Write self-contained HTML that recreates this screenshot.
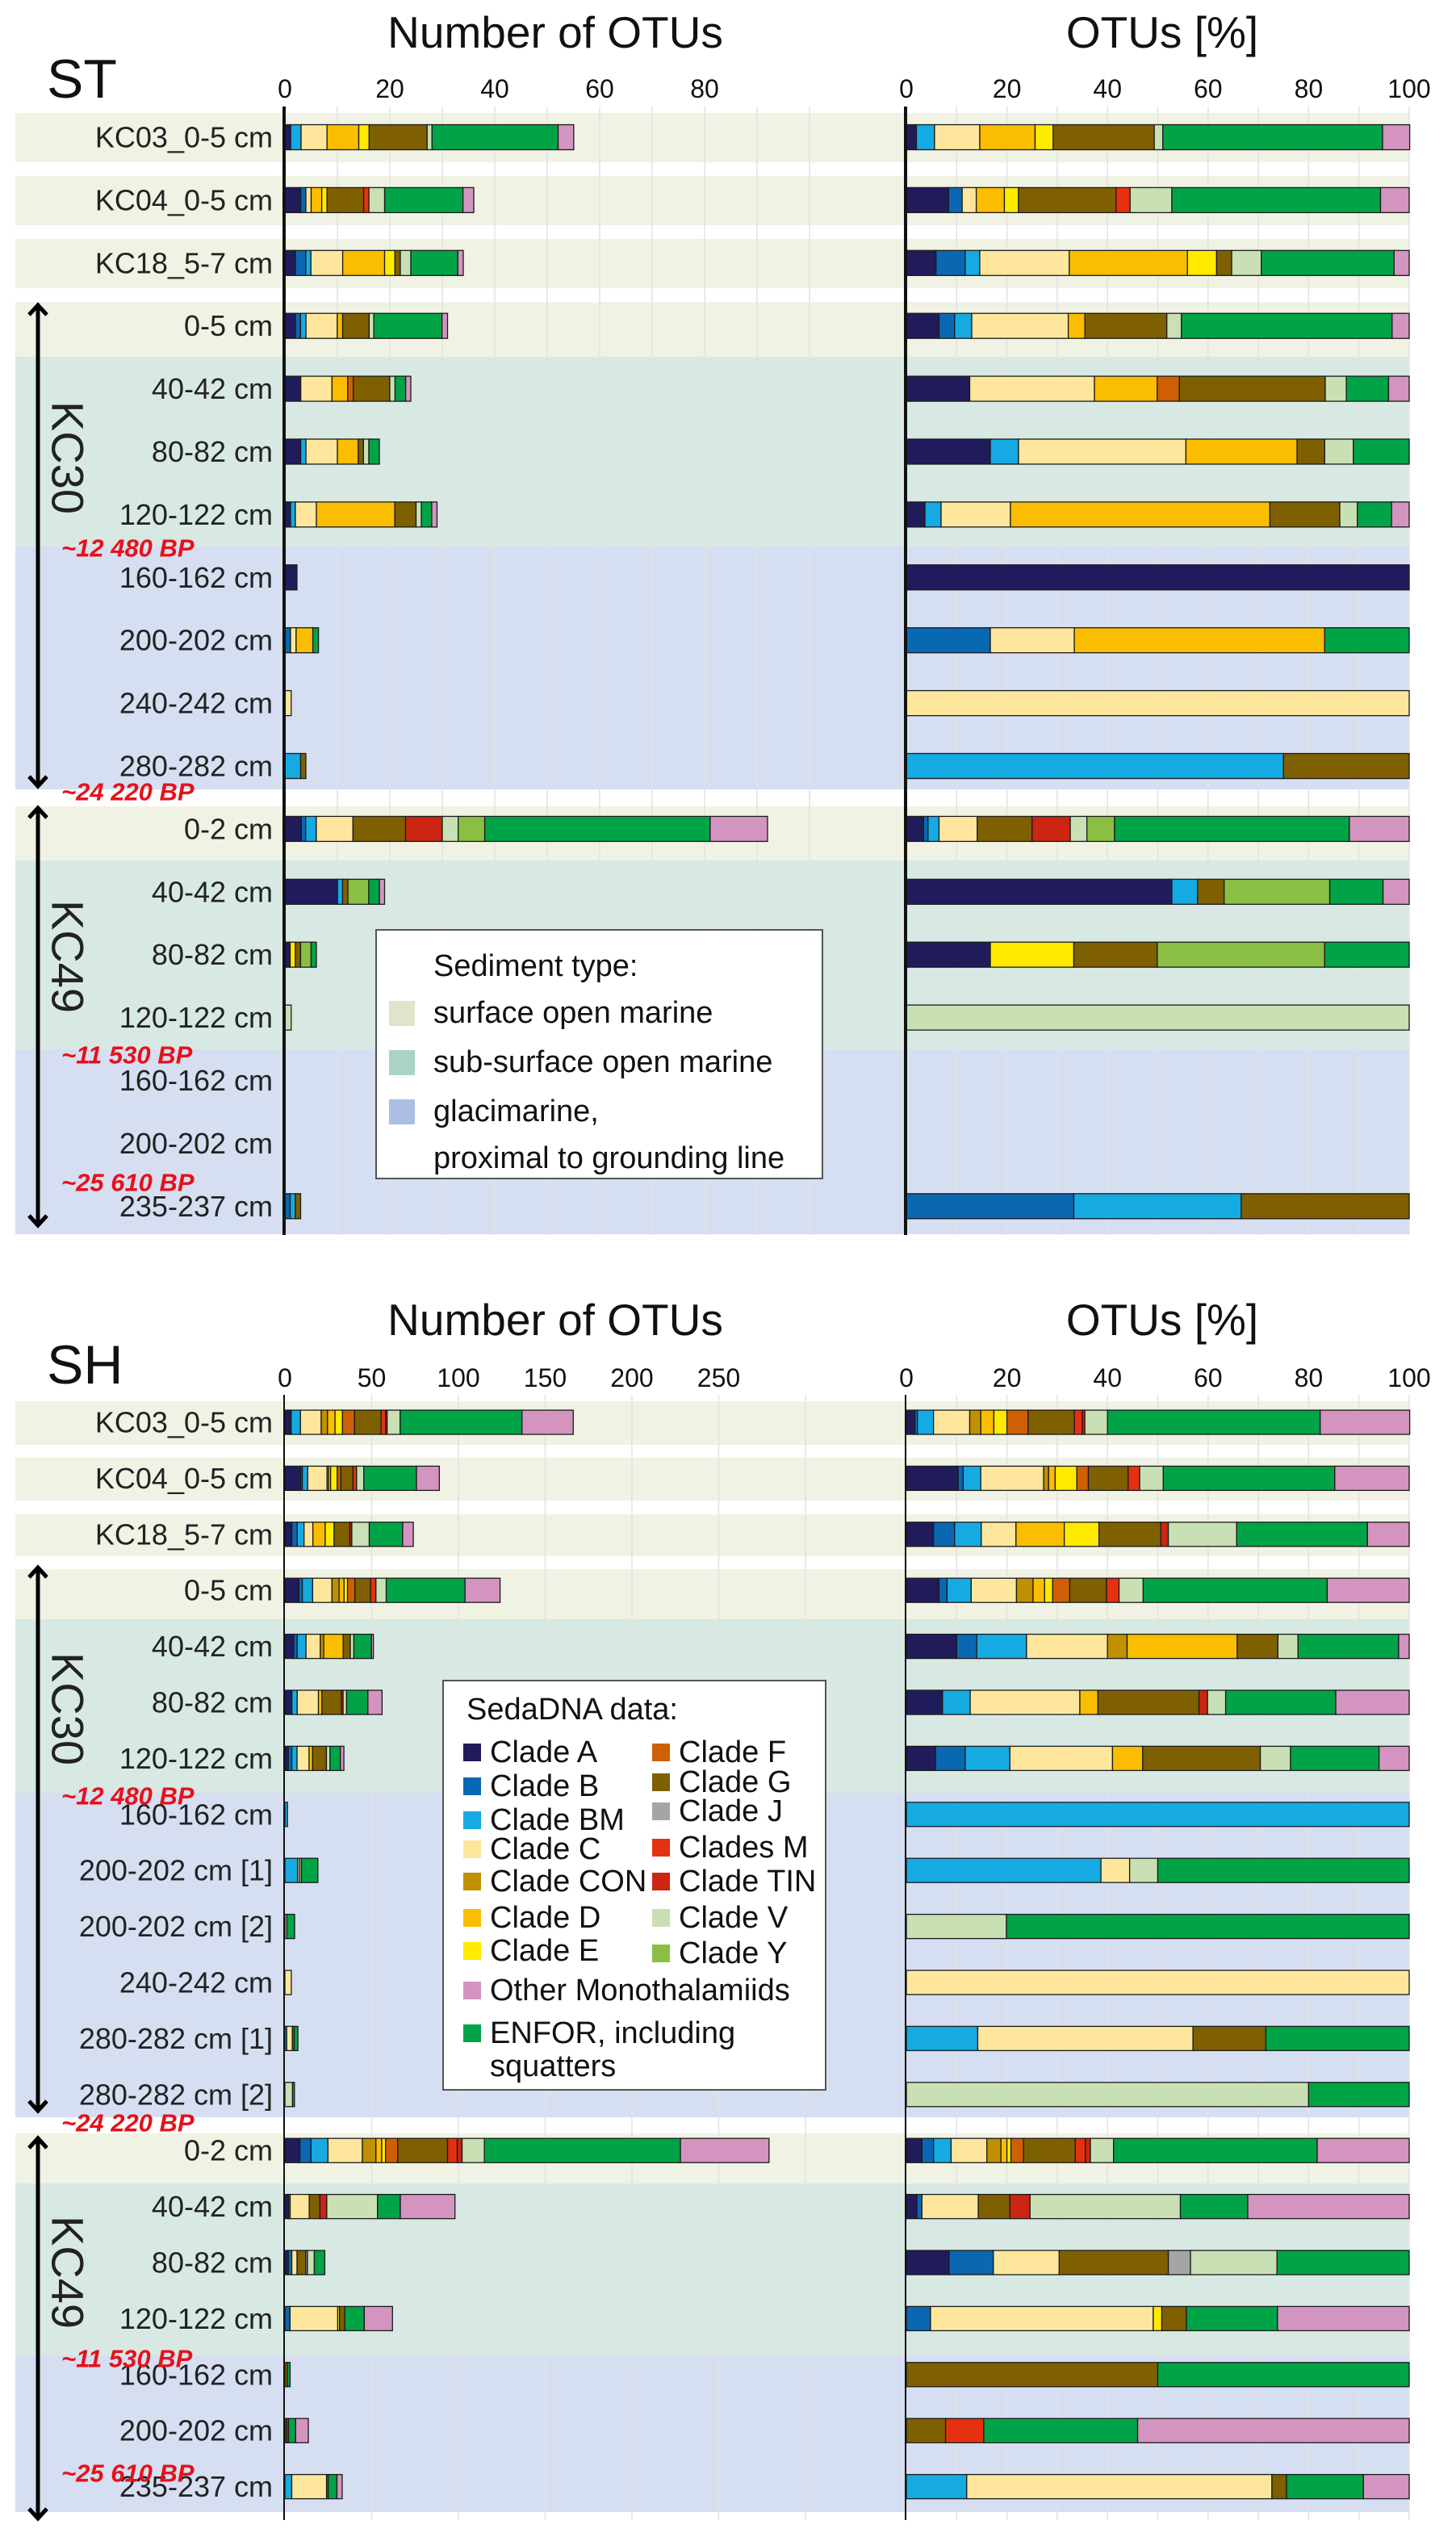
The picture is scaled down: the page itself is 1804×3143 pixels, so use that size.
<!DOCTYPE html>
<html><head><meta charset="utf-8">
<style>
html,body{margin:0;padding:0;background:#fff;}
svg{display:block;font-family:"Liberation Sans",sans-serif;}
</style></head>
<body>
<svg id="chart" width="1804" height="3143" viewBox="0 0 1804 3143" xmlns="http://www.w3.org/2000/svg"></svg>
<script>
// ---- Data ----
const cladeKeys = ["A","B","BM","C","CON","D","E","F","G","J","M","TIN","V","Y","OM","EN"];
const cladeColors = ["#201c5c","#0a68b2","#16aae2","#fee79c","#bf9000","#fbbd00","#ffea00","#cf5f05","#7f6000","#a5a5a5","#e5310f","#cc2511","#c8e0b4","#8bbf44","#d394c0","#00a447"];

const stLabels = ["KC03_0-5 cm","KC04_0-5 cm","KC18_5-7 cm","0-5 cm","40-42 cm","80-82 cm","120-122 cm","160-162 cm","200-202 cm","240-242 cm","280-282 cm","0-2 cm","40-42 cm","80-82 cm","120-122 cm","160-162 cm","200-202 cm","235-237 cm"];
const stTotals = [55,36,34,31,24,18,29,2.3,6.4,1.2,4,92,19,6,1.2,0,0,3];
const stComp = [
 [["A",2],["BM",3.6],["C",9],["D",11],["E",3.6],["G",20.1],["V",1.7],["EN",43.7],["OM",5.4]],
 [["A",8.4],["B",2.7],["C",2.8],["D",5.6],["E",2.8],["G",19.4],["M",2.8],["V",8.3],["EN",41.5],["OM",5.7]],
 [["A",5.9],["B",5.8],["BM",2.9],["C",17.8],["D",23.5],["E",5.8],["G",3],["V",5.9],["EN",26.4],["OM",3]],
 [["A",6.5],["B",3.1],["BM",3.4],["C",19.2],["D",3.3],["G",16.3],["V",2.9],["EN",41.9],["OM",3.4]],
 [["A",12.6],["C",24.8],["D",12.5],["F",4.4],["G",29],["V",4.2],["EN",8.4],["OM",4.1]],
 [["A",16.7],["BM",5.6],["C",33.3],["D",22.1],["G",5.5],["V",5.7],["EN",11.1]],
 [["A",3.7],["BM",3.2],["C",13.8],["D",51.6],["G",13.9],["V",3.5],["EN",6.8],["OM",3.5]],
 [["A",100]],
 [["B",16.7],["C",16.7],["D",49.8],["EN",16.8]],
 [["C",100]],
 [["BM",75],["G",25]],
 [["A",3.4],["B",0.9],["BM",2.2],["C",7.6],["G",10.9],["TIN",7.6],["V",3.3],["Y",5.5],["EN",46.7],["OM",11.9]],
 [["A",52.8],["BM",5.1],["G",5.3],["Y",21],["EN",10.6],["OM",5.2]],
 [["A",16.7],["E",16.6],["G",16.6],["Y",33.3],["EN",16.8]],
 [["V",100]],
 [],
 [],
 [["B",33.3],["BM",33.3],["G",33.4]]
];

const shLabels = ["KC03_0-5 cm","KC04_0-5 cm","KC18_5-7 cm","0-5 cm","40-42 cm","80-82 cm","120-122 cm","160-162 cm","200-202 cm [1]","200-202 cm [2]","240-242 cm","280-282 cm [1]","280-282 cm [2]","0-2 cm","40-42 cm","80-82 cm","120-122 cm","160-162 cm","200-202 cm","235-237 cm"];
const shTotals = [166,89,74,124,51,56,34,1.5,19,5.6,3.7,7.5,5.5,279,98,23,62,3,13.5,33];
const shComp = [
 [["A",1.7],["B",0.5],["BM",3.2],["C",7.2],["CON",2.2],["D",2.6],["E",2.6],["F",4.2],["G",9.2],["M",1.6],["TIN",0.5],["V",4.5],["EN",42.3],["OM",17.8]],
 [["A",10.3],["B",1],["BM",3.5],["C",12.5],["CON",1],["D",1.3],["E",4.3],["F",2.3],["G",7.9],["M",2.3],["V",4.7],["EN",34.1],["OM",14.8]],
 [["A",5.4],["B",4.2],["BM",5.3],["C",6.9],["D",9.6],["E",6.9],["G",12.3],["TIN",1.5],["V",13.6],["EN",26],["OM",8.3]],
 [["A",6.5],["B",1.6],["BM",4.8],["C",9],["CON",3.3],["D",2.3],["E",1.6],["F",3.4],["G",7.3],["M",2.5],["V",4.8],["EN",36.6],["OM",16.3]],
 [["A",10],["B",4],["BM",9.9],["C",16.1],["CON",3.9],["D",21.9],["G",8.1],["V",4],["EN",20],["OM",2.1]],
 [["A",7.2],["BM",5.5],["C",21.8],["D",3.6],["G",20.1],["TIN",1.7],["V",3.6],["EN",21.9],["OM",14.6]],
 [["A",5.8],["B",5.9],["BM",8.9],["C",20.4],["D",6],["G",23.4],["V",6],["EN",17.6],["OM",6]],
 [["BM",100]],
 [["BM",38.7],["C",5.7],["V",5.6],["EN",50]],
 [["V",19.9],["EN",80.1]],
 [["C",100]],
 [["BM",14.2],["C",42.8],["G",14.5],["EN",28.5]],
 [["V",80],["EN",20]],
 [["A",3.1],["B",2.3],["BM",3.5],["C",7.1],["CON",2.8],["D",1.2],["E",0.8],["F",2.5],["G",10.3],["M",2],["TIN",1],["V",4.6],["EN",40.5],["OM",18.3]],
 [["A",2.1],["B",1],["C",11.2],["G",6.3],["TIN",4],["V",29.9],["EN",13.4],["OM",32.1]],
 [["A",8.5],["B",8.8],["C",13.1],["G",21.7],["J",4.4],["V",17.2],["EN",26.3]],
 [["B",4.8],["C",44.3],["E",1.7],["G",4.9],["EN",18.1],["OM",26.2]],
 [["G",50],["EN",50]],
 [["G",7.8],["M",7.6],["EN",30.6],["OM",54]],
 [["BM",12],["C",60.7],["G",2.9],["EN",15.3],["OM",9.1]]
];

const stCountTicks = [0,20,40,60,80];
const shCountTicks = [0,50,100,150,200,250];
const pctTicks = [0,20,40,60,80,100];

// ---- helpers ----
const svg = document.getElementById('chart');
const NS = "http://www.w3.org/2000/svg";
function mk(tag, attrs, parent){
  const e = document.createElementNS(NS, tag);
  for (const k in attrs) e.setAttribute(k, attrs[k]);
  (parent||svg).appendChild(e);
  return e;
}
function txt(s, attrs, parent){ const e = mk('text', attrs, parent); e.textContent = s; return e; }
function colorOf(k){ return cladeColors[cladeKeys.indexOf(k)]; }

const BAND = {s:"#f0f2e4", ss:"#d8e9e4", g:"#d6dff1"};
const RX0 = 1123, RK = 6.23;

function drawPanel(cfg){
  const g = mk('g', {});
  
  
  cfg.bands.forEach(b=>{
    const r = mk('rect',{x:19,y:b[0],width:1727,height:b[1]-b[0],fill:BAND[b[2]]},g);
    
    
  });
  const cx = v => cfg.x0 + v*cfg.k;
  const px = v => RX0 + v*RK;
  cfg.grid.forEach(v=>{
    const l = mk('line',{x1:cx(v),x2:cx(v),y1:cfg.axisTop,y2:cfg.axisBot,stroke:"#e2e2e2","stroke-width":1.5},g);
    
    
  });
  for (let v=10; v<=100; v+=10){
    const l = mk('line',{x1:px(v),x2:px(v),y1:cfg.axisTop,y2:cfg.axisBot,stroke:"#e2e2e2","stroke-width":1.5},g);
    
    
  }
  const t1 = txt("Number of OTUs",{x:688,y:cfg.titleY,"font-size":55,"text-anchor":"middle","dominant-baseline":"central",fill:"#111"},g);
  
  
  const t2 = txt("OTUs [%]",{x:1440,y:cfg.titleY,"font-size":55,"text-anchor":"middle","dominant-baseline":"central",fill:"#111"},g);
  
  
  const pn = txt(cfg.panelLabel,{x:58,y:cfg.panelY,"font-size":68,fill:"#111"},g);
  
  
  cfg.ticks.forEach(v=>{
    const t = txt(String(v),{x:cx(v),y:cfg.tickY,"font-size":32,"text-anchor":"middle","dominant-baseline":"central",fill:"#111"},g);
    
    
  });
  pctTicks.forEach(v=>{
    const t = txt(String(v),{x:px(v),y:cfg.tickY,"font-size":32,"text-anchor":"middle","dominant-baseline":"central",fill:"#111"},g);
    
    
  });
  cfg.labels.forEach((lab,i)=>{
    const yc = cfg.rowY0 + cfg.rowStep*i;
    const t = txt(lab,{x:338,y:yc,"font-size":36,"text-anchor":"end","dominant-baseline":"central",fill:"#222"},g);
    
    
    const comp = cfg.comp[i];
    const tot = cfg.totals[i];
    let cumP = 0;
    comp.forEach(seg=>{
      const p = seg[1];
      const c = colorOf(seg[0]);
      if (tot > 0){
        const x1 = cx(cumP*tot/100), x2 = cx((cumP+p)*tot/100);
        const r = mk('rect',{x:x1,y:yc-cfg.barH/2,width:Math.max(x2-x1,0.5),height:cfg.barH,fill:c,stroke:"#1a1a1a","stroke-width":1.3},g);
        
        
      }
      const r2 = mk('rect',{x:px(cumP),y:yc-cfg.barH/2,width:p*RK,height:cfg.barH,fill:c,stroke:"#1a1a1a","stroke-width":1.3},g);
      
      
      cumP += p;
    });
  });
  const a1 = mk('line',{x1:cfg.x0-1,x2:cfg.x0-1,y1:cfg.axisTop,y2:cfg.axisBot,stroke:"#111","stroke-width":cfg.axisW},g);
  
  
  const a2 = mk('line',{x1:RX0-1,x2:RX0-1,y1:cfg.axisTop,y2:cfg.axisBot,stroke:"#111","stroke-width":cfg.axisW},g);
  
  
  cfg.cores.forEach(c=>{
    const ag = mk('g',{},g);
    
    
    mk('line',{x1:47,x2:47,y1:c.y0+2,y2:c.y1-2,stroke:"#000","stroke-width":5},ag);
    mk('path',{d:`M36 ${c.y0+14} L47 ${c.y0+2} L58 ${c.y0+14}`,fill:"none",stroke:"#000","stroke-width":5},ag);
    mk('path',{d:`M36 ${c.y1-14} L47 ${c.y1-2} L58 ${c.y1-14}`,fill:"none",stroke:"#000","stroke-width":5},ag);
    const ct = txt(c.name,{x:0,y:0,"font-size":56,"text-anchor":"middle","dominant-baseline":"central",fill:"#222",transform:`translate(84 ${c.ty}) rotate(90)`},ag);
    
    
  });
  cfg.ages.forEach(a=>{
    const t = txt(a[0],{x:76,y:a[1],"font-size":31,"font-weight":"bold","font-style":"italic","dominant-baseline":"central",fill:"#e8101a"},g);
    
    
  });
}

drawPanel({
  name:"st", panelLabel:"ST", panelY:121, titleY:40, tickY:110,
  x0:353, k:6.5, ticks:stCountTicks, grid:[10,20,30,40,50,60,70,80,90,100],
  rowY0:170, rowStep:77.9, barH:31, axisTop:132, axisBot:1530, axisW:4,
  labels:stLabels, totals:stTotals, comp:stComp,
  bands:[[140,201,"s"],[218,279,"s"],[296,357,"s"],[374,442,"s"],[442,677,"ss"],[677,978,"g"],[999,1066,"s"],[1066,1300,"ss"],[1300,1529,"g"]],
  cores:[{y0:376,y1:976,name:"KC30",ty:567},{y0:999,y1:1520,name:"KC49",ty:1185}],
  ages:[["~12 480 BP",679],["~24 220 BP",981],["~11 530 BP",1307],["~25 610 BP",1465]]
});
drawPanel({
  name:"sh", panelLabel:"SH", panelY:1714, titleY:1635, tickY:1707,
  x0:353, k:2.15, ticks:shCountTicks, grid:[50,100,150,200,250,300],
  rowY0:1762, rowStep:69.4, barH:30, axisTop:1728, axisBot:3122, axisW:2,
  labels:shLabels, totals:shTotals, comp:shComp,
  bands:[[1736,1790,"s"],[1806,1859,"s"],[1876,1928,"s"],[1944,2006,"s"],[2006,2221,"ss"],[2221,2623,"g"],[2643,2705,"s"],[2705,2918,"ss"],[2918,3112,"g"]],
  cores:[{y0:1940,y1:2617,name:"KC30",ty:2117},{y0:2647,y1:3122,name:"KC49",ty:2815}],
  ages:[["~12 480 BP",2225],["~24 220 BP",2630],["~11 530 BP",2922],["~25 610 BP",3064]]
});

// ---- Legends ----
const sedNames = ["surface open marine","sub-surface open marine","glacimarine,"];
const sedColors = ["#dfe5c8","#a9d3c6","#aabfe2"];
(function(){
  const g = mk('g',{});
  
  
  mk('rect',{x:466,y:1152,width:553,height:308,fill:"#fff",stroke:"#555","stroke-width":2},g);
  txt("Sediment type:",{x:537,y:1197,"font-size":38,"dominant-baseline":"central",fill:"#111"},g);
  const ys=[1255,1316,1377];
  sedNames.forEach((n,i)=>{
    const s = mk('rect',{x:482,y:ys[i]-15,width:32,height:31,fill:sedColors[i]},g);
    
    
    const t = txt(n,{x:537,y:ys[i],"font-size":38,"dominant-baseline":"central",fill:"#111"},g);
    
    
  });
  txt("proximal to grounding line",{x:537,y:1435,"font-size":38,"dominant-baseline":"central",fill:"#111"},g);
})();

const legNames1 = ["Clade A","Clade B","Clade BM","Clade C","Clade CON","Clade D","Clade E","Other Monothalamiids","ENFOR, including"];
const legKeys1 = ["A","B","BM","C","CON","D","E","OM","EN"];
const legY1 = [2171,2213,2255,2291,2331,2376,2417,2466,2519];
const legNames2 = ["Clade F","Clade G","Clade J","Clades M","Clade TIN","Clade V","Clade Y"];
const legKeys2 = ["F","G","J","M","TIN","V","Y"];
const legY2 = [2171,2208,2244,2289,2331,2376,2420];
(function(){
  const g = mk('g',{});
  
  
  mk('rect',{x:549,y:2082,width:474,height:507,fill:"#fff",stroke:"#555","stroke-width":2},g);
  txt("SedaDNA data:",{x:578,y:2118,"font-size":38,"dominant-baseline":"central",fill:"#111"},g);
  function item(name,key,x,y){
    const s = mk('rect',{x:x,y:y-11,width:22,height:22,fill:colorOf(key)},g);
    
    
    const t = txt(name,{x:x+33,y:y,"font-size":38,"dominant-baseline":"central",fill:"#111"},g);
    
    
  }
  legNames1.forEach((n,i)=>item(n,legKeys1[i],574,legY1[i]));
  legNames2.forEach((n,i)=>item(n,legKeys2[i],808,legY2[i]));
  txt("squatters",{x:607,y:2560,"font-size":38,"dominant-baseline":"central",fill:"#111"},g);
})();
</script>
</body></html>
